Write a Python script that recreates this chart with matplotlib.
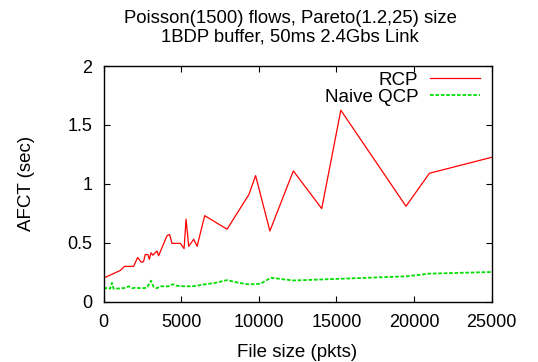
import matplotlib
matplotlib.use('Agg')
import matplotlib.pyplot as plt

# ── Data ──────────────────────────────────────────────────────────────────
rcp_x = [0, 1080, 1360, 1940, 2200, 2430, 2580, 2690, 2860, 2950, 3060, 3180,
         3440, 3550, 4090, 4260, 4410, 4950, 5190, 5320, 5490, 5810, 6030,
         6520, 7960, 9370, 9800, 10720, 12230, 14060, 15290, 19490, 21000, 25000]
rcp_y = [0.20, 0.265, 0.30, 0.30, 0.375, 0.335, 0.34, 0.40, 0.40, 0.36, 0.415, 0.395,
         0.43, 0.39, 0.56, 0.57, 0.495, 0.495, 0.45, 0.70, 0.47, 0.53, 0.47,
         0.73, 0.615, 0.91, 1.07, 0.60, 1.11, 0.79, 1.625, 0.81, 1.09, 1.225]

qcp_x = [0, 320, 430, 540, 650, 1000, 1300, 1620, 1830, 2100, 2450, 2800,
         3060, 3230, 3440, 3660, 4190, 4460, 4740, 5270, 5920, 6560, 7210,
         7960, 8710, 9370, 10120, 10770, 12230, 19490, 21000, 25000]
qcp_y = [0.115, 0.115, 0.11, 0.16, 0.11, 0.112, 0.115, 0.13, 0.115, 0.118, 0.113, 0.118,
         0.178, 0.125, 0.114, 0.131, 0.13, 0.148, 0.135, 0.13, 0.133, 0.148, 0.16,
         0.183, 0.16, 0.147, 0.152, 0.203, 0.18, 0.215, 0.238, 0.252]

x_ticks = [0, 5000, 10000, 15000, 20000, 25000]
y_ticks = [0, 0.5, 1, 1.5, 2]
y_tick_labels = ['0', '0.5', '1', '1.5', '2']

TITLE = 'Poisson(1500) flows, Pareto(1.2,25) size\n1BDP buffer, 50ms 2.4Gbs Link'

plt.rcParams['font.family'] = ['Liberation Sans', 'DejaVu Sans']

fig = plt.figure(figsize=(5.38, 3.62), dpi=100)
ax = fig.add_axes([0.1924, 0.1666, 0.7212, 0.651])

ax.plot(rcp_x, rcp_y, color='#ff0000', linewidth=0.9, label='RCP')
ax.plot(qcp_x, qcp_y, color='#00e000', linewidth=1.3, linestyle=(0, (2, 1)), label='Naive QCP')

ax.set_xlim(0, 25000)
ax.set_ylim(0, 2)
ax.set_xticks(x_ticks)
ax.set_yticks(y_ticks)
ax.set_yticklabels(y_tick_labels)
ax.tick_params(direction='in', top=True, right=True, length=4, width=0.8, labelsize=13)
ax.tick_params(axis='x', pad=9)
ax.tick_params(axis='y', pad=8)
for s in ax.spines.values():
    s.set_linewidth(1.0)

ax.set_xlabel('File size (pkts)', fontsize=13.5, labelpad=9)
ax.set_ylabel('AFCT (sec)', fontsize=13.5, labelpad=23)
fig.text(290 / 538, 1 - 28 / 362, TITLE, ha='center', va='center',
         fontsize=13.3, linespacing=1.15)

ax.legend(loc='upper right', frameon=False, markerfirst=False, fontsize=13.5,
          handlelength=2.7, borderaxespad=0.0, labelspacing=0.0,
          bbox_to_anchor=(0.99, 1.008), handletextpad=0.6)

fig.savefig('out.png', dpi=100, facecolor='white')
